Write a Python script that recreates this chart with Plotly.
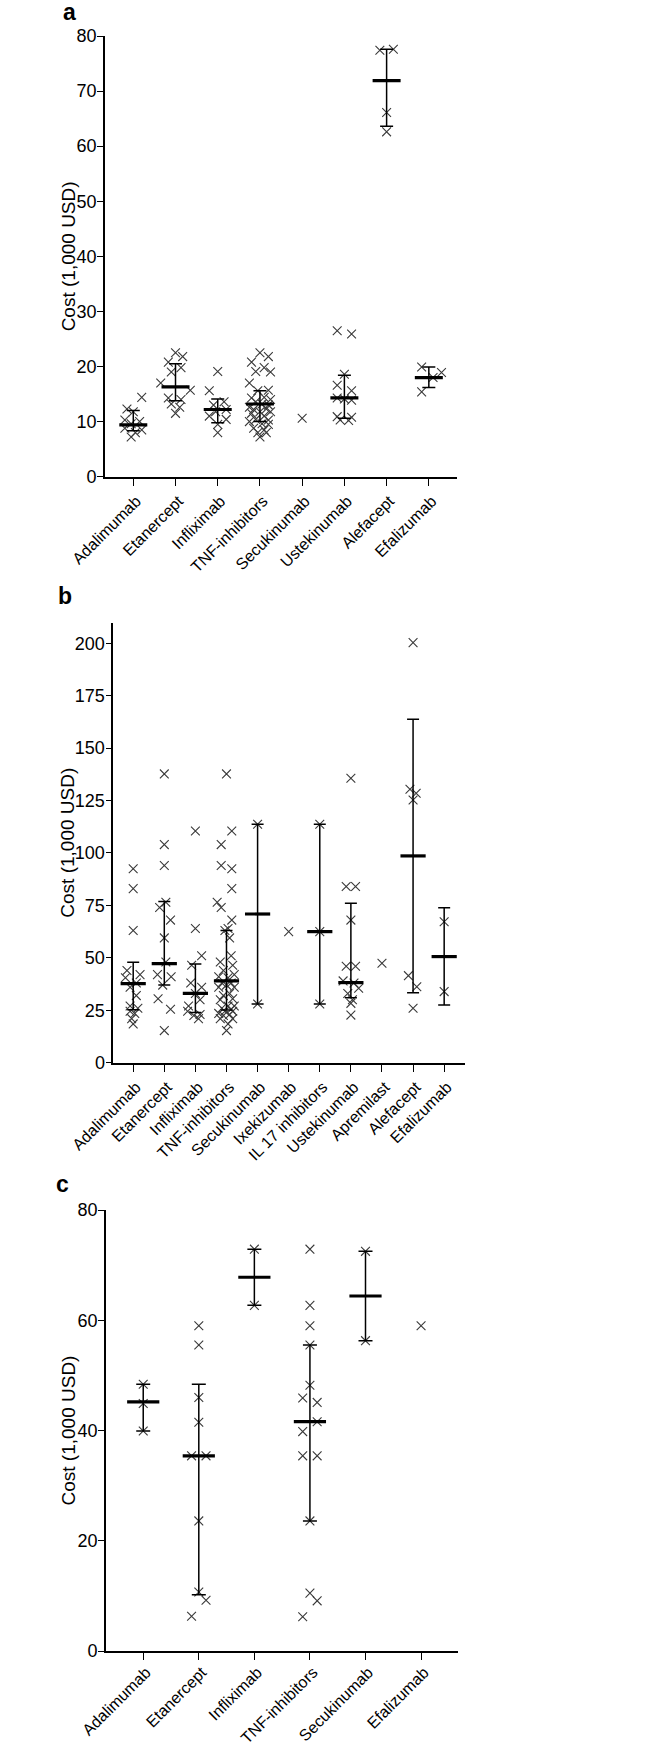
import plotly.graph_objects as go

# ---------------- Panel a ----------------
cats_a = ["Adalimumab", "Etanercept", "Infliximab", "TNF-inhibitors",
          "Secukinumab", "Ustekinumab", "Alefacept", "Efalizumab"]
a_values = [
    [14.4, 12.3, 11.8, 10.3, 10.0, 9.6, 8.8, 8.5, 8.0, 7.2],
    [22.5, 21.8, 20.8, 19.8, 19.0, 17.0, 15.7, 14.3, 14.0, 13.2, 12.6, 11.5],
    [19.1, 15.6, 13.6, 13.0, 12.2, 11.8, 11.0, 10.4, 9.5, 8.0],
    [22.5, 21.8, 20.8, 19.8, 19.1, 19.0, 17.0, 15.7, 15.6, 14.4, 14.3, 14.0,
     13.6, 13.2, 13.0, 12.6, 12.3, 12.2, 11.8, 11.8, 11.5, 11.0, 10.4, 10.3,
     10.0, 9.6, 9.5, 8.8, 8.5, 8.0, 8.0, 7.2],
    [10.6],
    [26.5, 25.9, 18.6, 16.6, 15.6, 14.3, 14.1, 13.9, 10.9, 10.8, 10.3, 10.2],
    [77.6, 77.4, 66.1, 62.6],
    [19.9, 18.9, 18.0, 15.4],
]
a_offsets = [
    [0.2, -0.15, 0.0, -0.2, 0.15, -0.05, -0.2, 0.2, 0.05, -0.05],
    [0.0, 0.17, -0.17, 0.13, -0.1, -0.35, 0.35, -0.17, 0.13, -0.1, 0.1, 0.0],
    [0.0, -0.2, 0.15, -0.1, 0.2, -0.05, -0.2, 0.2, 0.0, 0.0],
    [0.0, 0.2, -0.2, 0.1, -0.1, 0.25, -0.25, 0.2, -0.05, 0.1, -0.2, 0.25,
     -0.1, 0.05, 0.2, -0.25, 0.15, -0.15, 0.0, 0.25, -0.2, 0.1, -0.1, 0.2,
     -0.25, 0.05, 0.2, -0.15, 0.1, -0.05, 0.15, 0.0],
    [0.0],
    [-0.17, 0.17, 0.0, -0.17, 0.17, -0.17, 0.0, 0.17, -0.17, 0.17, -0.1, 0.1],
    [0.16, -0.16, 0.0, 0.0],
    [-0.17, 0.3, 0.1, -0.17],
]
a_median = [9.4, 16.3, 12.2, 13.2, None, 14.3, 71.9, 18.0]
a_q1 = [8.35, 13.8, 9.8, 10.0, None, 10.6, 63.6, 16.2]
a_q3 = [12.0, 20.5, 14.1, 15.6, None, 18.4, 77.6, 19.9]
a_yticks = [0, 10, 20, 30, 40, 50, 60, 70, 80]

# ---------------- Panel b ----------------
cats_b = ["Adalimumab", "Etanercept", "Infliximab", "TNF-inhibitors",
          "Secukinumab", "Ixekizumab", "IL 17 inhibitors", "Ustekinumab",
          "Apremilast", "Alefacept", "Efalizumab"]
b_values = [
    [92.5, 83.0, 63.0, 44.0, 42.0, 40.5, 38.0, 36.0, 32.0, 27.0, 26.0, 24.5, 23.5, 21.0, 18.5],
    [137.7, 104.0, 94.0, 76.5, 74.0, 68.0, 59.5, 48.0, 42.0, 41.0, 37.0, 30.5, 25.5, 15.3],
    [110.5, 64.0, 51.0, 46.5, 38.0, 36.0, 33.0, 30.0, 27.0, 24.5, 23.0, 22.5, 21.0],
    [137.7, 110.5, 104.0, 94.0, 92.5, 83.0, 76.5, 74.0, 68.0, 64.0, 63.0, 59.5,
     51.0, 48.0, 46.5, 44.0, 42.0, 41.0, 40.5, 38.0, 38.0, 37.0, 36.0, 36.0,
     33.0, 32.0, 30.5, 30.0, 27.0, 27.0, 26.0, 25.5, 24.5, 24.5, 23.5, 23.0,
     22.5, 21.0, 21.0, 18.5, 15.3],
    [113.7, 28.0],
    [62.5],
    [113.7, 62.5, 28.0],
    [135.6, 84.0, 84.0, 68.0, 46.0, 46.0, 39.0, 38.0, 35.5, 33.0, 30.0, 28.3, 22.7],
    [47.4],
    [200.3, 130.4, 128.5, 125.3, 41.5, 36.2, 26.0],
    [67.2, 33.9],
]
b_offsets = [
    [0.0, 0.0, 0.0, -0.2, 0.22, -0.25, 0.1, -0.1, 0.1, -0.1, 0.15, -0.1, 0.05, -0.05, 0.0],
    [0.0, 0.0, 0.0, 0.05, -0.15, 0.2, 0.0, 0.05, -0.22, 0.22, -0.05, -0.2, 0.2, 0.0],
    [0.0, 0.0, 0.2, -0.12, -0.15, 0.2, 0.0, 0.15, -0.22, -0.25, 0.15, -0.05, 0.1],
    [0.0, 0.17, -0.17, -0.17, 0.17, 0.17, -0.3, -0.17, 0.17, 0.05, -0.05, 0.1,
     0.15, -0.2, 0.2, -0.1, 0.25, -0.25, 0.05, -0.15, 0.15, 0.0, 0.25, -0.25,
     0.1, -0.1, 0.2, -0.2, 0.05, 0.25, -0.15, 0.15, -0.05, 0.2, -0.25, 0.1,
     -0.1, 0.2, -0.2, 0.05, 0.0],
    [0.0, 0.0],
    [0.0],
    [0.0, 0.0, 0.0],
    [0.0, -0.15, 0.15, 0.0, -0.15, 0.15, -0.25, 0.1, 0.25, -0.1, 0.05, 0.0, 0.0],
    [0.0],
    [0.0, -0.1, 0.1, 0.0, -0.15, 0.12, 0.0],
    [0.0, 0.0],
]
b_median = [37.7, 47.2, 33.1, 39.0, 70.9, None, 62.5, 38.2, None, 98.6, 50.6]
b_q1 = [25.2, 37.1, 23.9, 25.1, 28.0, None, 28.0, 31.0, None, 33.4, 27.5]
b_q3 = [47.9, 76.9, 47.1, 63.0, 113.7, None, 113.7, 76.0, None, 163.8, 73.9]
b_yticks = [0, 25, 50, 75, 100, 125, 150, 175, 200]

# ---------------- Panel c ----------------
cats_c = ["Adalimumab", "Etanercept", "Infliximab", "TNF-inhibitors",
          "Secukinumab", "Efalizumab"]
c_values = [
    [48.4, 44.9, 39.9],
    [59.0, 55.5, 46.0, 41.5, 35.4, 35.4, 23.6, 10.7, 9.2, 6.3],
    [72.9, 62.7],
    [72.9, 62.7, 59.0, 55.5, 48.2, 45.9, 45.1, 41.6, 39.8, 35.4, 35.4, 23.6, 10.5, 9.1, 6.2],
    [72.5, 56.3],
    [59.0],
]
c_offsets = [
    [0.0, 0.0, 0.0],
    [0.0, 0.0, 0.0, 0.0, -0.13, 0.13, 0.0, 0.0, 0.13, -0.13],
    [0.0, 0.0],
    [0.0, 0.0, 0.0, 0.0, 0.0, -0.13, 0.13, 0.13, -0.13, -0.13, 0.13, 0.0, 0.0, 0.13, -0.13],
    [0.0, 0.0],
    [0.0],
]
c_median = [45.2, 35.4, 67.8, 41.6, 64.4, None]
c_q1 = [39.9, 10.2, 62.7, 23.6, 56.3, None]
c_q3 = [48.4, 48.4, 72.9, 55.5, 72.5, None]
c_yticks = [0, 20, 40, 60, 80]

FONT = "Liberation Sans, Arial, sans-serif"
W, H = 650, 1749

fig = go.Figure()

panels = [
    dict(cats=cats_a, vals=a_values, offs=a_offsets, med=a_median, q1=a_q1, q3=a_q3,
         yticks=a_yticks, yrange=[0, 80], xrange=[-0.67, 7.66],
         xpx=(105, 456.7), ypx=(36, 476.7), medsize=20, cap=6.5, label="a",
         labelpos=(69, 0), lshift=3, xstand=0),
    dict(cats=cats_b, vals=b_values, offs=b_offsets, med=b_median, q1=b_q1, q3=b_q3,
         yticks=b_yticks, yrange=[0, 209.8], xrange=[-0.64, 10.67],
         xpx=(113.3, 465), ypx=(622.7, 1062.7), medsize=18, cap=6, label="b",
         labelpos=(65, 581), lshift=0, xstand=0),
    dict(cats=cats_c, vals=c_values, offs=c_offsets, med=c_median, q1=c_q1, q3=c_q3,
         yticks=c_yticks, yrange=[0, 80], xrange=[-0.67, 5.67],
         xpx=(106, 458.3), ypx=(1210, 1651), medsize=23, cap=7, label="c",
         labelpos=(63, 1169), lshift=0, xstand=-3),
]

annotations = []
for k, p in enumerate(panels):
    sfx = "" if k == 0 else str(k + 1)
    xa, ya = "x" + sfx, "y" + sfx
    px, py = [], []
    for i, (vals, offs) in enumerate(zip(p["vals"], p["offs"])):
        for v, o in zip(vals, offs):
            px.append(i + o)
            py.append(v)
    fig.add_trace(go.Scatter(
        x=px, y=py, mode="markers", xaxis=xa, yaxis=ya, hoverinfo="skip",
        marker=dict(symbol="x-thin", size=8.8, color="#3a3a3a",
                    line=dict(width=1.1, color="#3a3a3a")),
    ))
    mx, my, ep, em = [], [], [], []
    for i, (m, lo, hi) in enumerate(zip(p["med"], p["q1"], p["q3"])):
        if m is None:
            continue
        mx.append(i)
        my.append(m)
        ep.append(hi - m)
        em.append(m - lo)
    fig.add_trace(go.Scatter(
        x=mx, y=my, mode="markers", xaxis=xa, yaxis=ya, hoverinfo="skip",
        marker=dict(symbol="line-ew", size=p["medsize"], color="black",
                    line=dict(width=3.2, color="black")),
        error_y=dict(type="data", symmetric=False, array=ep, arrayminus=em,
                     color="black", thickness=1.5, width=p["cap"]),
    ))
    xd = [p["xpx"][0] / W, p["xpx"][1] / W]
    yd = [1 - p["ypx"][1] / H, 1 - p["ypx"][0] / H]
    fig.layout["xaxis" + sfx] = dict(
        domain=xd, anchor=ya, range=p["xrange"], tickmode="array",
        tickvals=list(range(len(p["cats"]))), ticktext=p["cats"], tickangle=-45,
        showline=True, linecolor="black", linewidth=1.6, ticks="outside",
        ticklen=7, tickwidth=1.4, tickcolor="black", showgrid=False, zeroline=False,
        tickfont=dict(family=FONT, size=16, color="black"), fixedrange=True,
        automargin=False, ticklabelshift=3, ticklabelstandoff=p["xstand"],
    )
    fig.layout["yaxis" + sfx] = dict(
        domain=yd, anchor=xa, range=p["yrange"], tickmode="array",
        tickvals=p["yticks"], showline=True, linecolor="black", linewidth=1.6,
        ticks="outside", ticklen=6, tickwidth=1.4, tickcolor="black",
        showgrid=False, zeroline=False, ticklabelstandoff=-3,
        tickfont=dict(family=FONT, size=18, color="black"), fixedrange=True,
        automargin=False,
    )
    annotations.append(dict(
        text="Cost (1,000 USD)", textangle=-90, xref="paper", yref="paper",
        x=68 / W, y=1 - (p["ypx"][0] + p["ypx"][1]) / 2 / H,
        xanchor="center", yanchor="middle", showarrow=False,
        font=dict(family=FONT, size=19, color="black"),
    ))
    annotations.append(dict(
        text="<b>" + p["label"] + "</b>", xref="paper", yref="paper",
        x=p["labelpos"][0] / W, y=1 - p["labelpos"][1] / H, yshift=p["lshift"],
        xanchor="center", yanchor="top", showarrow=False,
        font=dict(family=FONT, size=23, color="black"),
    ))

fig.update_layout(
    template="none",
    width=W, height=H, autosize=False, showlegend=False,
    margin=dict(l=0, r=0, t=0, b=0, pad=0, autoexpand=False),
    paper_bgcolor="white", plot_bgcolor="white",
    annotations=annotations,
)

fig.write_html(
    "out.html",
    config={"displayModeBar": False},
    post_script="document.body.style.margin='0';document.body.style.padding='0';",
)
